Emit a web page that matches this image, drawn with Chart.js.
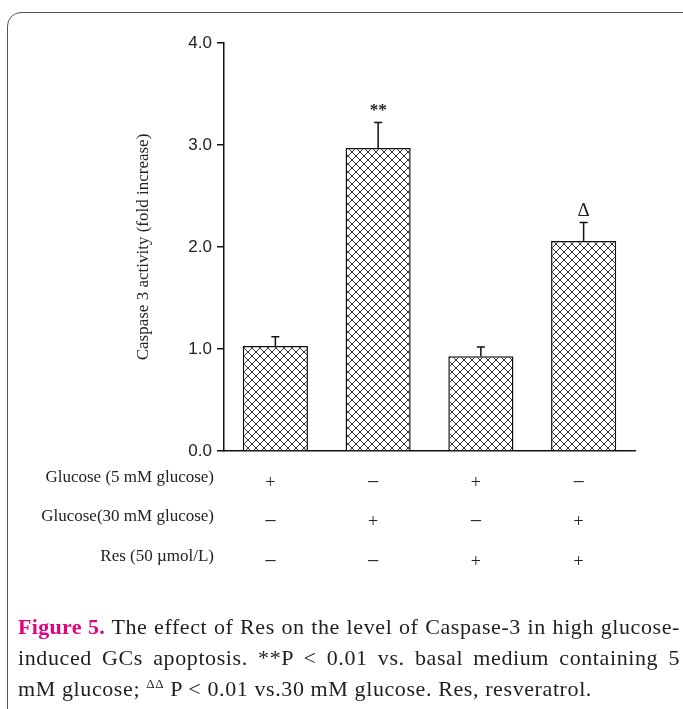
<!DOCTYPE html>
<html>
<head>
<meta charset="utf-8">
<script src="https://cdn.jsdelivr.net/npm/chart.js@4.4.1/dist/chart.umd.min.js"></script>
<style>
  html, body { margin: 0; padding: 0; background: #fff; }
  body { width: 683px; height: 709px; position: relative; overflow: hidden; }
  #frame {
    position: absolute; left: 7px; top: 12px; width: 700px; height: 720px;
    border: 1px solid #555; border-radius: 14px; box-sizing: border-box;
  }
  #wrap { position: absolute; left: 0; top: 0; width: 683px; height: 709px; }
  #caption {
    position: absolute; left: 18px; top: 611px; width: 662px;
    font-family: 'Liberation Serif', 'Times New Roman', serif;
    font-size: 22px; line-height: 31px; color: #1e1e1e; letter-spacing: 0.6px;
  }
  #caption .ln { text-align: justify; text-align-last: justify; }
  #caption .ln.last { text-align: left; text-align-last: left; }
  #caption b { color: #e4007f; letter-spacing: 0.3px; }
  #caption sup { font-size: 13px; vertical-align: 8px; line-height: 0; }
</style>
</head>
<body>
<div id="frame"></div>
<div id="wrap"><canvas id="chart" width="683" height="709"></canvas></div>
<div id="caption">
  <div class="ln"><b>Figure 5.</b> The effect of Res on the level of Caspase-3 in high glucose-</div>
  <div class="ln">induced GCs apoptosis. **P &lt; 0.01 vs. basal medium containing 5</div>
  <div class="ln last">mM glucose; <sup>ΔΔ</sup> P &lt; 0.01 vs.30 mM glucose. Res, resveratrol.</div>
</div>
<script>
// groups and values
const groups = ['5 mM', '30 mM', '5 mM + Res', '30 mM + Res'];
const means = [1.03, 2.97, 0.93, 2.06];
const errors = [0.09, 0.25, 0.09, 0.18];
const marks = ['', '**', '', 'Δ'];

// treatment table under the bars
const rowLabels = ['Glucose (5 mM glucose)', 'Glucose(30 mM glucose)', 'Res (50 \u00b5mol/L)'];
const glucose5 = ['+', '\u2212', '+', '\u2212'];
const glucose30 = ['\u2212', '+', '\u2212', '+'];
const resSigns = ['\u2212', '\u2212', '+', '+'];
const tableRows = [glucose5, glucose30, resSigns];

const yTitle = 'Caspase 3 activity (fold increase)';

function makeHatch() {
    const c = document.createElement('canvas');
    c.width = 8;
    c.height = 8;
    const g = c.getContext('2d');
    g.fillStyle = '#fff';
    g.fillRect(0, 0, 8, 8);
    g.strokeStyle = '#333';
    g.lineWidth = 1;
    g.beginPath();
    g.moveTo(0, 0); g.lineTo(8, 8);
    g.moveTo(8, 0); g.lineTo(0, 8);
    g.stroke();
    return g.createPattern(c, 'repeat');
}

const serif = "'Liberation Serif', 'Times New Roman', serif";

// error bars, significance marks and the treatment table
const extras = {
    id: 'extras',
    afterDatasetsDraw(chart) {
        const ctx = chart.ctx;
        const y = chart.scales.y;
        const x = chart.scales.x;
        const meta = chart.getDatasetMeta(0);
        ctx.save();
        ctx.strokeStyle = '#111';
        ctx.lineWidth = 1.5;
        meta.data.forEach((bar, i) => {
            const top = y.getPixelForValue(means[i]);
            const cap = y.getPixelForValue(means[i] + errors[i]);
            ctx.beginPath();
            ctx.moveTo(bar.x, top);
            ctx.lineTo(bar.x, cap);
            ctx.moveTo(bar.x - 4, cap);
            ctx.lineTo(bar.x + 4, cap);
            ctx.stroke();
            if (marks[i]) {
                ctx.fillStyle = '#222';
                ctx.font = (marks[i] === '**' ? 'bold 17px ' : '19px ') + serif;
                ctx.textAlign = 'center';
                ctx.textBaseline = 'middle';
                ctx.fillText(marks[i], bar.x, cap - 12);
            }
        });

        const rowY = [478, 517, 557];
        ctx.fillStyle = '#222';
        ctx.textBaseline = 'middle';
        rowLabels.forEach((lab, r) => {
            ctx.font = '17px ' + serif;
            ctx.textAlign = 'right';
            ctx.fillText(lab, 214, rowY[r]);
            ctx.textAlign = 'center';
            tableRows[r].forEach((s, i) => {
                ctx.font = (s === '+' ? '18px ' : '22px ') + serif;
                ctx.fillText(s, x.getPixelForValue(i) - 5, rowY[r] + 5);
            });
        });
        ctx.restore();
    }
};

const ctx = document.getElementById('chart').getContext('2d');
new Chart(ctx, {
    type: 'bar',
    data: {
        labels: groups,
        datasets: [{
            data: means,
            backgroundColor: makeHatch(),
            borderColor: '#111',
            borderWidth: 1.5,
            categoryPercentage: 1,
            barPercentage: 0.634
        }]
    },
    options: {
        responsive: false,
        animation: false,
        events: [],
        layout: { padding: { left: 133, top: 43, right: 48, bottom: 250 } },
        plugins: { legend: { display: false }, tooltip: { enabled: false } },
        scales: {
            x: {
                ticks: { display: false },
                grid: { display: false },
                border: { color: '#111', width: 1.5 }
            },
            y: {
                min: 0,
                max: 4,
                ticks: {
                    stepSize: 1,
                    padding: 5,
                    color: '#222',
                    font: { family: "'Liberation Sans', Arial, sans-serif", size: 17 },
                    callback: v => v.toFixed(1)
                },
                grid: { drawOnChartArea: false, tickLength: 7, color: '#111', lineWidth: 1.5 },
                border: { color: '#111', width: 1.5 },
                title: {
                    display: true,
                    text: yTitle,
                    color: '#222',
                    padding: 0,
                    font: { family: serif, size: 17 }
                },
                afterFit: s => { s.width = 91; }
            }
        }
    },
    plugins: [extras]
});
</script>
</body>
</html>
